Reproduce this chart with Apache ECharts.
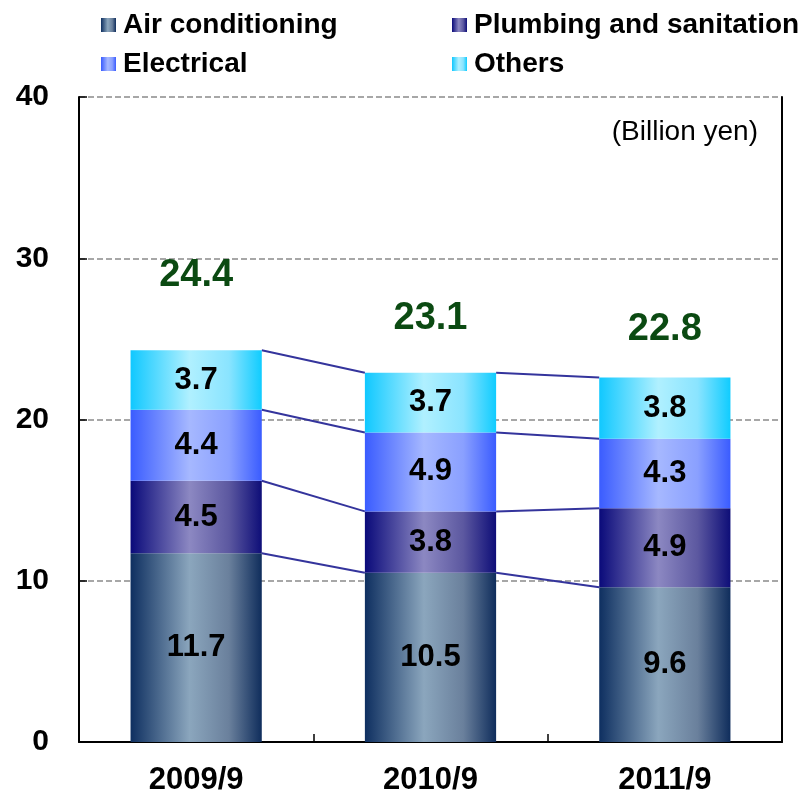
<!DOCTYPE html>
<html>
<head>
<meta charset="utf-8">
<script src="https://cdn.jsdelivr.net/npm/echarts@6/dist/echarts.min.js"></script>
<style>
  html, body { margin: 0; padding: 0; background: #fff; }
  #chart { width: 800px; height: 796px; }
</style>
</head>
<body>
<div id="chart"></div>
<script>
// data
const categories = ['2009/9', '2010/9', '2011/9']
const airConditioning = [11.7, 10.5, 9.6]
const plumbing = [4.5, 3.8, 4.9]
const electrical = [4.4, 4.9, 4.3]
const others = [3.7, 3.7, 3.8]
const totals = [24.4, 23.1, 22.8]
const yTicks = [0, 10, 20, 30, 40]

// style only: how far each total label sits above its bar
const totalLabelOffsets = [-73, -51, -45]

const FONT = '"Liberation Sans", Arial, sans-serif'
const BAR_RATIO = 0.56

function hGrad(edge, light, mid, edge2) {
  return new echarts.graphic.LinearGradient(0, 0, 1, 0, [
    { offset: 0, color: edge },
    { offset: 0.45, color: light },
    { offset: 0.75, color: mid },
    { offset: 1, color: edge2 }
  ])
}

const seriesDefs = [
  { name: 'Air conditioning', data: airConditioning, color: hGrad('#0e2f60', '#8ba6bd', '#6a809c', '#0f2d5c') },
  { name: 'Plumbing and sanitation', data: plumbing, color: hGrad('#0a0a7a', '#8c88c2', '#5c58a0', '#0e0e78') },
  { name: 'Electrical', data: electrical, color: hGrad('#3a5cff', '#a6b8ff', '#8aa0ff', '#3a5cff') },
  { name: 'Others', data: others, color: hGrad('#10c8ff', '#b0f0ff', '#8ae4ff', '#10ccff') }
]

// cumulative tops of each stack level, used for the connector lines
const cumulative = []
let running = categories.map(() => 0)
seriesDefs.forEach(s => {
  running = running.map((v, i) => v + s.data[i])
  cumulative.push(running.slice())
})
const connectorData = []
for (let i = 0; i < categories.length - 1; i++) {
  cumulative.forEach(level => {
    connectorData.push([i, level[i], level[i + 1]])
  })
}

const chart = echarts.init(document.getElementById('chart'))

const legendPos = [
  { left: 101, top: 11 },
  { left: 452, top: 11 },
  { left: 101, top: 50 },
  { left: 452, top: 50 }
]

chart.setOption({
  backgroundColor: '#ffffff',
  animation: false,
  title: {
    text: '(Billion yen)',
    right: 37,
    top: 113,
    textStyle: {
      fontFamily: FONT,
      fontWeight: 'normal',
      fontSize: 28,
      color: '#000'
    }
  },
  legend: seriesDefs.map((s, i) => ({
    data: [s.name],
    left: legendPos[i].left,
    top: legendPos[i].top,
    padding: 0,
    icon: 'rect',
    itemWidth: 15,
    itemHeight: 14,
    selectedMode: false,
    textStyle: {
      fontFamily: FONT,
      fontWeight: 'bold',
      fontSize: 28,
      color: '#000',
      padding: [0, 0, 0, 2]
    }
  })),
  grid: {
    left: 79,
    right: 18,
    top: 97,
    bottom: 53
  },
  xAxis: {
    type: 'category',
    data: categories,
    axisLine: { lineStyle: { color: '#000', width: 2 } },
    axisTick: { show: true, inside: true, length: 8, lineStyle: { color: '#000', width: 1.5 } },
    axisLabel: {
      margin: 23,
      fontFamily: FONT,
      fontWeight: 'bold',
      fontSize: 31,
      color: '#000'
    }
  },
  yAxis: [{
    type: 'value',
    min: yTicks[0],
    max: yTicks[yTicks.length - 1],
    interval: 10,
    axisLine: { show: true, lineStyle: { color: '#000', width: 2 } },
    axisTick: { show: true, inside: true, length: 8, lineStyle: { color: '#000', width: 1.5 } },
    axisLabel: {
      margin: 30,
      fontFamily: FONT,
      fontWeight: 'bold',
      fontSize: 30,
      color: '#000'
    },
    splitLine: {
      show: true,
      lineStyle: { color: '#8a8a8a', type: [6, 3], width: 1.5 }
    }
  }, {
    type: 'value',
    position: 'right',
    min: yTicks[0],
    max: yTicks[yTicks.length - 1],
    interval: 10,
    axisLine: { show: true, lineStyle: { color: '#000', width: 2 } },
    axisTick: { show: false },
    axisLabel: { show: false },
    splitLine: { show: false }
  }],
  series: [
    ...seriesDefs.map(s => ({
      name: s.name,
      type: 'bar',
      stack: 'total',
      barWidth: (BAR_RATIO * 100) + '%',
      data: s.data,
      itemStyle: { color: s.color },
      label: {
        show: true,
        position: 'inside',
        fontFamily: FONT,
        fontWeight: 'bold',
        fontSize: 31,
        color: '#000',
        formatter: p => p.value.toFixed(1)
      }
    })),
    {
      name: 'connectors',
      type: 'custom',
      data: connectorData,
      encode: { x: 0, y: 1 },
      z: 1,
      silent: true,
      renderItem(params, api) {
        const i = api.value(0)
        const p1 = api.coord([i, api.value(1)])
        const p2 = api.coord([i + 1, api.value(2)])
        const half = api.size([1, 0])[0] * BAR_RATIO / 2
        return {
          type: 'line',
          shape: { x1: p1[0] + half, y1: p1[1], x2: p2[0] - half, y2: p2[1] },
          style: { stroke: '#34349c', lineWidth: 2 }
        }
      }
    },
    {
      name: 'totals',
      type: 'scatter',
      symbolSize: 0,
      silent: true,
      itemStyle: { opacity: 1 },
      data: totals.map((v, i) => ({
        value: v,
        label: { offset: [0, totalLabelOffsets[i]] }
      })),
      label: {
        show: true,
        position: 'inside',
        fontFamily: FONT,
        fontWeight: 'bold',
        fontSize: 38,
        color: '#0b4a12',
        opacity: 1,
        formatter: p => p.value.toFixed(1)
      }
    }
  ]
})
</script>
</body>
</html>
